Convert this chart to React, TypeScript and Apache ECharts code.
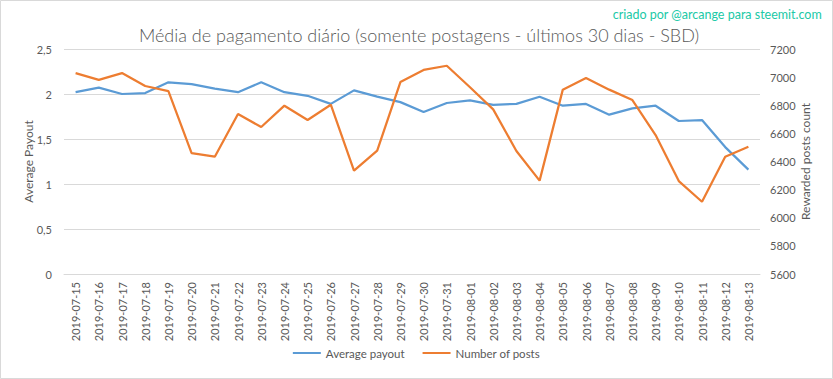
import React, { useEffect, useRef } from "react";
import * as echarts from "echarts";

const dates = [
  "2019-07-15", "2019-07-16", "2019-07-17", "2019-07-18", "2019-07-19", "2019-07-20",
  "2019-07-21", "2019-07-22", "2019-07-23", "2019-07-24", "2019-07-25", "2019-07-26",
  "2019-07-27", "2019-07-28", "2019-07-29", "2019-07-30", "2019-07-31", "2019-08-01",
  "2019-08-02", "2019-08-03", "2019-08-04", "2019-08-05", "2019-08-06", "2019-08-07",
  "2019-08-08", "2019-08-09", "2019-08-10", "2019-08-11", "2019-08-12", "2019-08-13",
];

const averagePayout = [
  2.02, 2.07, 2.0, 2.01, 2.13, 2.11, 2.06, 2.02, 2.13, 2.02, 1.98, 1.89, 2.04, 1.97, 1.91,
  1.8, 1.9, 1.93, 1.88, 1.89, 1.97, 1.87, 1.89, 1.77, 1.84, 1.87, 1.7, 1.71, 1.41, 1.16,
];

const numberOfPosts = [
  7029, 6980, 7029, 6937, 6901, 6460, 6434, 6738, 6645, 6797, 6695, 6804, 6335, 6477, 6965,
  7051, 7081, 6928, 6771, 6475, 6264, 6911, 6994, 6911, 6837, 6588, 6261, 6114, 6434, 6505,
];

const titleText = "Média de pagamento diário (somente postagens - últimos 30 dias - SBD)";
const watermark = "criado por @arcange para steemit.com";

const FONT = "Lato, 'Open Sans', sans-serif";
const GREY = "#595959";

export default function App() {
  const ref = useRef<HTMLDivElement>(null);
  useEffect(() => {
    if (!ref.current) return;
    const chart = echarts.init(ref.current, undefined, { renderer: "svg" });
    chart.setOption({
      animation: false,
      backgroundColor: "#ffffff",
      textStyle: { fontFamily: FONT },
      title: {
        text: titleText,
        left: 414,
        top: 21,
        textAlign: "center",
        textStyle: { fontFamily: FONT, fontSize: 18, fontWeight: 300, color: GREY },
      },
      graphic: [
        {
          type: "rect",
          shape: { x: 0.5, y: 0.5, width: 832, height: 378 },
          style: { fill: "none", stroke: "#d9d9d9", lineWidth: 1 },
          silent: true,
        },
        {
          type: "text",
          right: 11,
          top: 8,
          style: { text: watermark, fill: "#20c9a6", font: `12.5px ${FONT}` },
        },
      ],
      legend: {
        bottom: 15,
        left: "center",
        itemWidth: 28,
        itemHeight: 2,
        itemGap: 18,
        icon: "rect",
        textStyle: { color: GREY, fontSize: 11.5, fontFamily: FONT },
        data: ["Average payout", "Number of posts"],
      },
      grid: { left: 64, right: 73, top: 49, bottom: 105 },
      xAxis: {
        type: "category",
        data: dates,
        boundaryGap: true,
        axisLine: { lineStyle: { color: "#d9d9d9" } },
        axisTick: { show: false },
        axisLabel: { rotate: 90, color: GREY, fontSize: 11, margin: 8, interval: 0 },
      },
      yAxis: [
        {
          type: "value",
          min: 0,
          max: 2.5,
          interval: 0.5,
          name: "Average Payout",
          nameLocation: "middle",
          nameGap: 30,
          nameMoveOverlap: false,
          nameTextStyle: { color: GREY, fontSize: 12 },
          axisLine: { show: false },
          axisTick: { show: false },
          axisLabel: {
            color: GREY,
            fontSize: 11,
            margin: 12,
            formatter: (v: number) => String(v).replace(".", ","),
          },
          splitLine: { lineStyle: { color: "#d9d9d9" } },
        },
        {
          type: "value",
          min: 5600,
          max: 7200,
          interval: 200,
          name: "Rewarded posts count",
          nameLocation: "middle",
          nameGap: 39,
          nameRotate: 90,
          nameMoveOverlap: false,
          nameTextStyle: { color: GREY, fontSize: 12 },
          axisLine: { show: false },
          axisTick: { show: false },
          axisLabel: { color: GREY, fontSize: 11, margin: 10, formatter: (v: number) => String(v) },
          splitLine: { show: false },
        },
      ],
      series: [
        {
          name: "Average payout",
          type: "line",
          data: averagePayout,
          yAxisIndex: 0,
          symbol: "none",
          color: "#5b9bd5",
          lineStyle: { width: 2.25, color: "#5b9bd5" },
        },
        {
          name: "Number of posts",
          type: "line",
          data: numberOfPosts,
          yAxisIndex: 1,
          symbol: "none",
          color: "#ed7d31",
          lineStyle: { width: 2.25, color: "#ed7d31" },
        },
      ],
    });
    return () => chart.dispose();
  }, []);
  return (
    <div
      ref={ref}
      style={{ position: "absolute", left: 0, top: 0, width: 833, height: 379 }}
    />
  );
}
